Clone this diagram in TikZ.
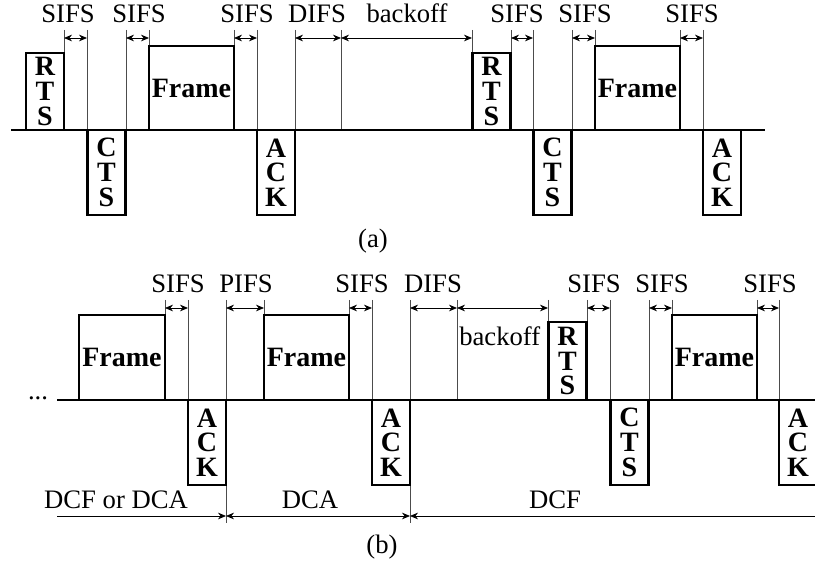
\documentclass[tikz,border=0pt]{standalone}
\usepackage{fontspec}
\setmainfont{Liberation Serif}
\usetikzlibrary{arrows.meta}
\begin{document}
\begin{tikzpicture}[x=0.75pt,y=-0.75pt,
  box/.style={draw, line width=1.8pt, inner sep=0pt, align=center,
    font=\bfseries\fontsize{21}{18.5}\selectfont},
  ctlbox/.style={box, minimum width=28.5pt},
  frm/.style={box, minimum width=63.75pt},
  lbl/.style={font=\fontsize{20}{23}\selectfont, inner sep=0pt, anchor=base},
  tick/.style={line width=0.6pt, black!70},
  dim/.style={line width=0.6pt, {Stealth[length=6pt,width=5pt]}-{Stealth[length=6pt,width=5pt]}},
  dimr/.style={line width=0.6pt, -{Stealth[length=6pt,width=5pt]}},
  diml/.style={line width=0.6pt, {Stealth[length=6pt,width=5pt]}-},
  timeline/.style={line width=1.5pt},
]
\useasboundingbox (0,0) rectangle (815,563);
\clip (0,0) rectangle (815,563);

% ---------------- (a) ----------------
\foreach \x/\b in {64/53,87/130,126/130,149/46,234/46,257/130,295/130,341/130,
                   472/53,511/53,533/130,572/130,595/46,680/46,703/130}
  \draw[tick] (\x,30) -- (\x,\b);
\draw[timeline] (11,130) -- (765,130);

\node[ctlbox, minimum height=57.75pt] (rtsa1) at (45,91.5) {R\\T\\S};
\node[ctlbox, minimum height=63.75pt] (ctsa1) at (106.5,172.5) {C\\T\\S};
\node[frm, minimum height=63pt] (fra1) at (191.5,88) {Frame};
\node[ctlbox, minimum height=63.75pt] (acka1) at (276,172.5) {A\\C\\K};
\node[ctlbox, minimum height=57.75pt] (rtsa2) at (491.5,91.5) {R\\T\\S};
\node[ctlbox, minimum height=63.75pt] (ctsa2) at (552.5,172.5) {C\\T\\S};
\node[frm, minimum height=63pt] (fra2) at (637.5,88) {Frame};
\node[ctlbox, minimum height=63.75pt] (acka2) at (722,172.5) {A\\C\\K};

\foreach \l/\r in {64/87,126/149,234/257,295/341,341/472,511/533,572/595,680/703}
  \draw[dim] (\l,38) -- (\r,38);

\node[lbl] (la1) at (68,23) {SIFS};
\node[lbl] (la2) at (139,23) {SIFS};
\node[lbl] (la3) at (247,23) {SIFS};
\node[lbl] (la4) at (317,23) {DIFS};
\node[lbl] (la5) at (407,23) {backoff};
\node[lbl] (la6) at (517,23) {SIFS};
\node[lbl] (la7) at (585,23) {SIFS};
\node[lbl] (la8) at (692,23) {SIFS};
\node[lbl] (capa) at (373,248) {(a)};

% ---------------- (b) ----------------
\foreach \x/\b in {165/315,188/400,226/523,264/315,349/315,372/400,410/523,457/400,
                   548/322,587/322,610/400,649/400,672/315,757/315,779/400}
  \draw[tick] (\x,300) -- (\x,\b);
\draw[timeline] (57,400) -- (815,400);
\node[lbl] (dots) at (38,399) {...};

\node[frm, minimum width=64.5pt, minimum height=63.75pt] (frb1) at (122,357.5) {Frame};
\node[ctlbox, minimum height=63.75pt] (ackb1) at (207,442.5) {A\\C\\K};
\node[frm, minimum height=63.75pt] (frb2) at (306.5,357.5) {Frame};
\node[ctlbox, minimum height=63.75pt] (ackb2) at (391,442.5) {A\\C\\K};
\node[ctlbox, minimum height=58.5pt] (rtsb) at (567.5,361) {R\\T\\S};
\node[ctlbox, minimum height=63.75pt] (ctsb) at (629.5,442.5) {C\\T\\S};
\node[frm, minimum height=63.75pt] (frb3) at (714.5,357.5) {Frame};
\node[ctlbox, minimum height=63.75pt] (ackb3) at (798,442.5) {A\\C\\K};

\foreach \l/\r in {165/188,226/264,349/372,410/457,457/548,587/610,649/672,757/779}
  \draw[dim] (\l,308) -- (\r,308);

\node[lbl] (lb1) at (178,293) {SIFS};
\node[lbl] (lb2) at (246,293) {PIFS};
\node[lbl] (lb3) at (362,293) {SIFS};
\node[lbl] (lb4) at (433,293) {DIFS};
\node[lbl, anchor=base west] (lb5) at (459,346) {backoff};
\node[lbl] (lb6) at (594,293) {SIFS};
\node[lbl] (lb7) at (662,293) {SIFS};
\node[lbl] (lb8) at (770,293) {SIFS};

\draw[dimr] (57,516) -- (226,516);
\draw[dim] (226,516) -- (410,516);
\draw[diml] (410,516) -- (815,516);
\node[lbl] (ph1) at (116,508) {DCF or DCA};
\node[lbl] (ph2) at (310,508) {DCA};
\node[lbl] (ph3) at (555,508) {DCF};
\node[lbl] (capb) at (382,553) {(b)};
\end{tikzpicture}
\end{document}
